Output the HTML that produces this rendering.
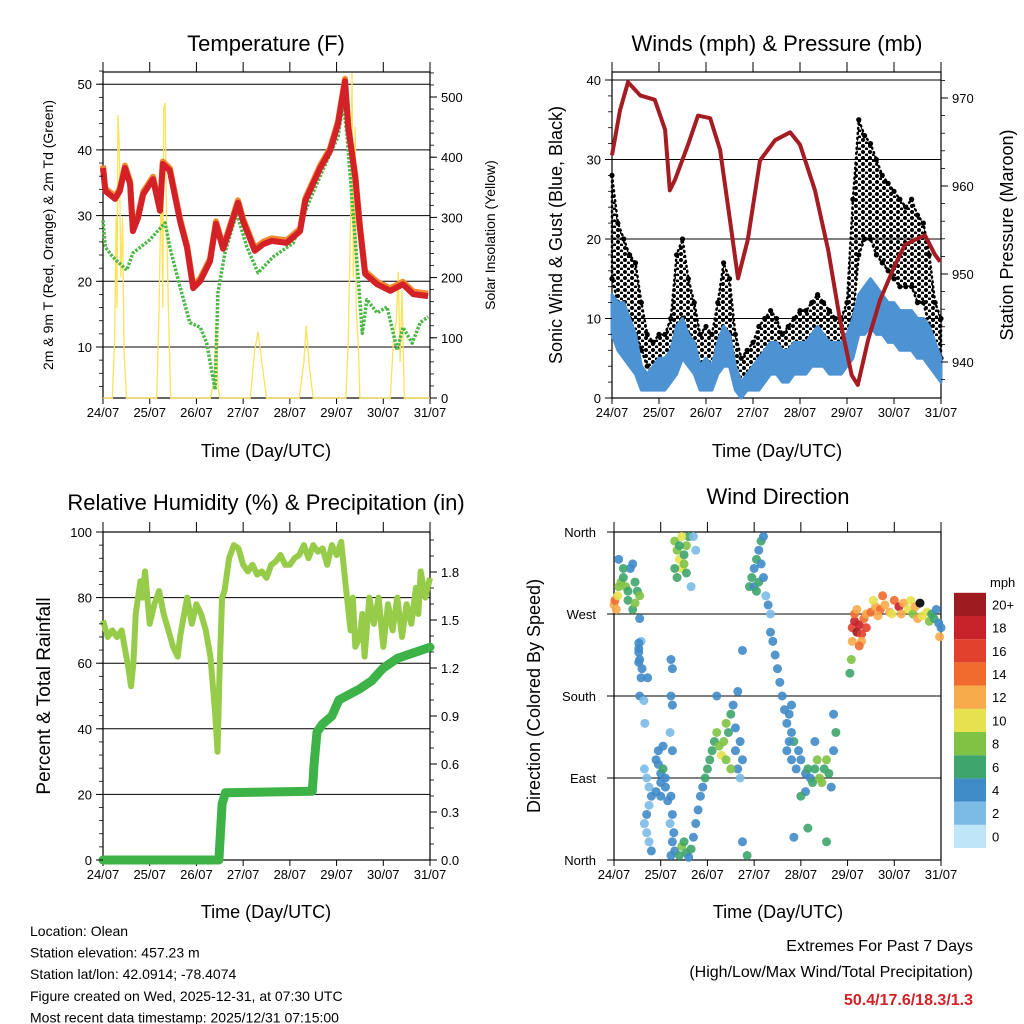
<!DOCTYPE html>
<html><head><meta charset="utf-8"><style>
body{margin:0;background:#fff}
svg{display:block;font-family:"Liberation Sans",Arial,sans-serif}
</style></head><body>
<svg id="c" width="1024" height="1024" viewBox="0 0 1024 1024" xmlns="http://www.w3.org/2000/svg">
<defs>
<pattern id="gp" width="7" height="6" patternUnits="userSpaceOnUse"><circle cx="2" cy="2" r="2" fill="#000"/><circle cx="5.5" cy="5" r="1.6" fill="#000"/></pattern>
</defs>
</svg>
<script>
// ---- data ----
const dayLabels=["24/07","25/07","26/07","27/07","28/07","29/07","30/07","31/07"];
const tT=[0,0.05,0.26,0.36,0.47,0.58,0.64,0.75,0.86,1.07,1.22,1.28,1.43,1.65,1.8,1.93,2.08,2.29,2.42,2.57,2.68,2.89,3.0,3.25,3.43,3.61,3.93,4.22,4.33,4.65,4.86,5.03,5.18,5.25,5.4,5.5,5.61,5.87,6.15,6.42,6.64,6.96];
const temp=[37.4,33.9,32.7,33.9,37.4,35,27.8,29.8,33.4,35.7,30.9,38,37,29.3,25.2,19.1,20.2,23.2,28.9,25.1,27.4,32.1,29.3,24.8,25.8,26.3,26,27.8,32.4,37.4,40,44.1,50.6,43.5,35.9,28.3,21.3,19.7,18.7,19.7,18.2,17.9];
const tTd=[0,0.05,0.21,0.51,0.64,1.0,1.33,1.43,1.65,1.86,2.08,2.22,2.4,2.46,2.61,2.86,3.08,3.32,3.64,4.07,4.43,4.71,5.03,5.14,5.22,5.35,5.46,5.55,5.65,5.87,6.08,6.3,6.42,6.62,6.79,6.96];
const dew=[29.3,25.2,23.7,21.7,24.3,26.3,28.9,25.2,19.1,13.7,13,10.6,3.5,18.2,24.3,30.4,25.2,21.3,23.7,25.8,32.4,37,42,47.1,42.6,30.9,20.7,12.1,17.2,15.2,16.1,9.5,13,10.6,13.7,14.6];
const tS=[0,0.2,0.25,0.28,0.3,0.32,0.35,0.38,0.42,0.45,0.5,1.15,1.2,1.25,1.28,1.3,1.33,1.36,1.4,1.45,2.3,2.38,2.42,2.46,2.5,3.15,3.25,3.32,3.4,3.5,4.2,4.3,4.35,4.42,4.5,5.2,5.25,5.3,5.33,5.36,5.4,5.42,5.47,5.5,6.15,6.22,6.28,6.32,6.36,6.4,6.45,7];
const solar=[0,0,100,300,150,470,420,200,300,80,0,0,150,380,150,480,490,300,150,0,0,30,120,20,0,0,80,110,60,0,0,60,120,50,0,0,100,300,540,200,450,150,80,0,0,100,130,210,60,180,0,0];
const tW=[0,0.125,0.25,0.375,0.5,0.625,0.75,0.875,1,1.125,1.25,1.375,1.5,1.625,1.75,1.875,2,2.125,2.25,2.375,2.5,2.625,2.75,2.875,3,3.125,3.25,3.375,3.5,3.625,3.75,3.875,4,4.125,4.25,4.375,4.5,4.625,4.75,4.875,5,5.125,5.25,5.375,5.5,5.625,5.75,5.875,6,6.125,6.25,6.375,6.5,6.625,6.75,6.875,7];
const gustLow=[15,12,12,10,8,6,4,3,4,4,5,8,10,8,6,4,4,3,6,8,8,3,2,2,3,4,5,6,5,4,4,5,5,6,7,8,7,6,5,5,6,10,18,20,20,18,17,16,15,14,14,14,12,12,9,6,5];
const gustHigh=[28,22,20,18,17,12,8,7,8,8,10,18,20,15,12,8,9,8,12,17,15,8,5,6,7,9,10,11,10,8,9,10,11,11,12,13,12,11,10,10,12,25,35,33,32,30,28,27,26,25,24,25,23,22,18,12,10];
const windLow=[8,6,5,4,3,1,1,1,1,1,2,3,5,4,3,1,1,1,3,4,4,1,0,1,1,1,2,3,3,2,2,3,3,3,4,4,4,3,3,3,4,5,8,8,9,8,8,7,7,6,6,6,5,5,4,3,2];
const windHigh=[13,12,12,10,8,4,3,4,5,5,6,9,10,8,7,4,5,4,7,9,8,4,2,3,4,5,6,7,7,6,6,7,7,7,8,9,8,7,7,7,8,10,13,14,15,14,13,12,12,11,11,11,10,10,9,7,5];
const tP=[0,0.17,0.34,0.6,0.91,1.13,1.23,1.34,1.62,1.83,2.09,2.3,2.51,2.68,2.89,3.15,3.47,3.79,4,4.32,4.6,4.85,5.1,5.23,5.45,5.7,6.02,6.23,6.45,6.66,6.87,6.98];
const pres=[963.5,968.6,971.8,970.3,969.8,966.4,959.5,960.7,964.7,968,967.7,964.1,956.1,949.5,953.9,962.9,965.2,966.1,964.7,959.5,952.7,944.8,938.5,937.4,942.5,947,951,953.3,953.9,954.4,952.2,951.4];
const tRH=[0,0.1,0.2,0.3,0.4,0.45,0.55,0.6,0.65,0.7,0.8,0.85,0.9,1,1.1,1.2,1.3,1.4,1.5,1.6,1.65,1.7,1.8,1.9,2,2.1,2.2,2.3,2.4,2.45,2.5,2.55,2.6,2.7,2.8,2.9,3,3.1,3.2,3.3,3.4,3.5,3.6,3.7,3.8,3.9,4,4.1,4.2,4.3,4.4,4.5,4.6,4.7,4.8,4.9,5,5.1,5.2,5.3,5.35,5.4,5.5,5.55,5.6,5.7,5.8,5.9,6,6.1,6.2,6.3,6.4,6.5,6.6,6.7,6.75,6.8,6.9,7];
const rh=[73,68,70,68,70,66,58,53,60,75,85,80,88,72,78,82,75,70,65,62,68,72,80,72,78,75,70,62,45,33,60,80,82,92,96,95,90,88,90,87,88,86,90,91,93,90,90,92,93,96,92,96,94,95,90,96,93,97,83,70,80,65,68,75,62,80,72,80,65,78,70,80,68,78,72,83,75,88,80,86];
const tR=[0,2.48,2.5,2.55,2.62,4.48,4.52,4.58,4.7,4.9,5.05,5.5,5.75,6,6.3,6.7,7];
const rain=[0,0,0.1,0.35,0.42,0.43,0.6,0.8,0.85,0.9,1.0,1.07,1.12,1.2,1.26,1.3,1.33];
const dirT=[0,0.02,0.05,0.08,0.1,0.15,0.2,0.25,0.3,0.35,0.4,0.45,0.5,0.55,0.3,0.4,0.45,0.2,0.1,0.55,0.58,0.55,0.6,0.58,0.55,0.53,0.53,0.53,0.53,0.65,0.7,0.75,0.8,0.75,0.7,0.65,0.7,0.75,0.8,0.9,0.95,1,1.05,1.1,1,0.95,1.05,1.1,1.15,0.9,1,0.64,0.66,0.72,1.22,1.25,1.22,1.25,1.2,1.25,1.22,1.25,1.2,1.28,1.25,1.22,1.3,1.35,1.4,1.45,1.5,1.55,1.6,1.3,1.35,1.4,1.45,1.5,1.55,1.7,1.75,1.65,1.3,1.4,1.45,1.5,1.55,1.6,1.65,1.7,1.75,1.8,1.85,1.9,1.95,2,2.05,2.1,2.15,2.2,2.25,2.3,2.35,2.4,2.45,2.5,2.55,2.6,2.65,2.7,2.5,2.4,2.6,2.7,2.75,2.65,2.2,2.75,2.75,2.85,2.9,2.95,3,3.05,3.1,3.15,3.2,3,3.05,3.1,3.15,3.2,3.25,3.3,3.35,3.35,3.4,3.45,3.5,3.55,3.6,3.65,3.7,3.75,3.8,3.85,3.75,3.7,3.8,3.9,3.95,4,4.1,4.15,4.2,4.25,4.3,4.35,4.4,4.45,4.5,4.55,4.6,4.65,4.7,4.75,4.7,4.3,4.1,4,3.8,3.85,4.15,4.55,5.05,5.08,5.1,5.1,5.15,5.2,5.25,5.3,5.35,5.4,5.15,5.2,5.3,5.25,5.4,5.5,5.6,5.7,5.8,5.9,6,6.1,6.2,6.3,6.4,6.5,6.6,6.7,6.75,6.8,6.85,6.9,6.95,7,6.97,5.55,5.65,5.75,5.95,6.15,6.35,6.45,6.55];
const dirDeg=[280,285,275,290,300,305,310,300,295,320,325,305,295,290,285,275,282,320,330,265,240,220,210,200,180,238,232,228,217,100,90,80,70,60,50,40,30,20,10,110,105,95,100,90,85,120,125,80,65,75,70,175,150,200,220,210,180,170,140,120,70,50,40,30,20,5,350,340,330,320,335,345,355,320,310,345,355,325,315,355,340,300,10,5,15,20,8,3,12,25,40,55,70,80,90,100,110,120,130,140,125,115,130,110,140,160,170,120,100,90,100,150,145,130,110,185,180,230,20,5,300,310,320,330,340,350,355,300,295,305,325,310,290,280,270,250,240,225,210,195,180,165,150,160,140,130,130,120,110,100,120,110,95,100,90,85,100,110,90,85,100,110,95,80,120,140,160,130,75,70,170,25,35,20,205,220,240,255,262,250,258,248,265,270,270,275,240,235,255,272,278,275,280,272,285,278,282,275,270,265,268,272,262,270,265,275,260,255,245,285,268,290,270,270,285,278,282];
const dirSpd=[12,14,11,10,8,7,6,7,6,4,4,5,6,8,6,5,7,5,4,3,2,3,4,4,3,4,4,3,4,2,2,2,3,2,3,2,2,2,3,4,4,4,5,4,3,4,4,4,3,3,4,2,2,3,4,3,3,4,2,3,3,4,2,3,4,4,7,8,9,9,6,7,5,6,6,5,9,8,5,2,2,2,4,6,7,6,5,4,5,4,4,4,4,4,5,6,6,5,6,7,8,9,8,7,6,5,4,3,3,2,8,7,4,3,3,3,4,4,4,6,6,5,4,5,4,6,3,4,5,6,3,4,2,3,2,3,3,3,4,4,4,4,4,4,3,5,4,3,4,4,4,4,4,5,4,6,5,8,7,7,6,7,6,3,4,5,4,3,3,6,3,4,6,6,6,7,12,16,18,20,17,15,13,12,14,12,11,14,16,13,12,14,11,12,13,17,12,10,8,11,10,9,7,6,5,4,4,4,12,10,11,14,9,12,9,11];
const speedColors=["#bfe5f8","#7cbbe6","#3f8bc8","#3ea56d","#80c244","#e6e14c","#f7ab4a","#f16b2e","#e2412d","#c8222b","#9e1b1f"];
const cbLabels=["0","2","4","6","8","10","12","14","16","18","20+"];

// ---- helpers ----
const svg=document.getElementById('c');
const NS="http://www.w3.org/2000/svg";
function mk(tag,at,parent){const e=document.createElementNS(NS,tag);for(const k in at)e.setAttribute(k,at[k]);(parent||svg).appendChild(e);return e;}
function txt(x,y,s,size,anchor,extra,parent){const e=mk('text',Object.assign({x:x,y:y,'font-size':size,'text-anchor':anchor||'middle',fill:'#000'},extra||{}),parent);e.textContent=s;return e;}
function pts(xs,ys,fx,fy){return xs.map((t,i)=>fx(t).toFixed(1)+","+fy(ys[i]).toFixed(1)).join(" ");}

function frame(g,x0,y0,x1,y1,grid,fy){
  grid.forEach(v=>{mk('line',{x1:x0,x2:x1,y1:fy(v),y2:fy(v),stroke:'#000','stroke-width':1},g);});
  mk('rect',{x:x0,y:y0,width:x1-x0,height:y1-y0,fill:'none',stroke:'#000','stroke-width':1.2},g);
  const fx=t=>x0+t*(x1-x0)/7;
  for(let d=0;d<=7;d++){
    mk('line',{x1:fx(d),x2:fx(d),y1:y1,y2:y1+6,stroke:'#000'},g);
    mk('line',{x1:fx(d),x2:fx(d),y1:y0,y2:y0-10,stroke:'#000'},g);
    const l=txt(fx(d),y1+19,dayLabels[d],13,'middle',{},g);
    
    
  }
  return fx;
}
function yticks(g,x,vals,fy,labels,side,minor){
  const dir=side==='left'?-1:1;
  (minor||[]).forEach(v=>mk('line',{x1:x,x2:x+dir*4,y1:fy(v),y2:fy(v),stroke:'#000','stroke-width':0.8},g));
  vals.forEach((v,i)=>{mk('line',{x1:x,x2:x+dir*7,y1:fy(v),y2:fy(v),stroke:'#000'},g);
    const l=txt(x+dir*11,fy(v)+5,labels[i],13,side==='left'?'end':'start',{},g);
    
    });
}
function group(name){const g=mk('g',{});return g;}
function range(a,b,s){const r=[];for(let v=a;v<=b+1e-9;v+=s)r.push(+v.toFixed(3));return r;}

// ---- Panel 1: Temperature ----
(function(){
  const g=group('temperature-panel');
  const x0=103,x1=430,y0=72,y1=398;
  const fyT=v=>347-(v-10)*6.57, fyS=v=>398-v*0.602;
  const fx=frame(g,x0,y0,x1,y1,[10,20,30,40,50],fyT);
  const sl=mk('polyline',{points:pts(tS,solar,fx,fyS),fill:'none',stroke:'#fde25a','stroke-width':1.3},g);
  
  const dl=mk('polyline',{points:pts(tTd,dew,fx,fyT),fill:'none',stroke:'#4db848','stroke-width':3.5,'stroke-dasharray':'2.5 1.5','stroke-linejoin':'round'},g);
  
  const ol=mk('polyline',{points:pts(tT,temp,fx,v=>fyT(v)-1.5),fill:'none',stroke:'#f08a30','stroke-width':6,'stroke-linejoin':'round'},g);
  
  const rl=mk('polyline',{points:pts(tT,temp,fx,v=>fyT(v)+1),fill:'none',stroke:'#d42027','stroke-width':6,'stroke-linejoin':'round'},g);
  
  yticks(g,x0,[10,20,30,40,50],fyT,["10","20","30","40","50"],'left',range(4,52,2));
  yticks(g,x1,[0,100,200,300,400,500],fyS,["0","100","200","300","400","500"],'right',range(0,540,20));
  const t=txt(266,51,"Temperature (F)",22,'middle',{},g);
  const xt=txt(266,457,"Time (Day/UTC)",18,'middle',{},g);
  const yl=txt(0,0,"2m & 9m T (Red, Orange) & 2m Td (Green)",14,'middle',{transform:'translate(53,235) rotate(-90)'},g);
  const yr=txt(0,0,"Solar Insolation (Yellow)",14,'middle',{transform:'translate(495,235) rotate(-90)'},g);
})();

// ---- Panel 2: Winds ----
(function(){
  const g=group('winds-panel');
  const x0=612,x1=941,y0=72,y1=398;
  const fyW=v=>398-v*7.95, fyP=v=>362-(v-940)*8.8;
  const fx=frame(g,x0,y0,x1,y1,[10,20,30,40],fyW);
  const gb=mk('polygon',{points:pts(tW,gustHigh,fx,fyW)+" "+pts(tW.slice().reverse(),gustLow.slice().reverse(),fx,fyW),fill:'url(#gp)',stroke:'#000','stroke-width':2.5,'stroke-dasharray':'1 4','stroke-linecap':'round'},g);
  
  tW.forEach((t,i)=>{[gustLow[i],gustHigh[i]].forEach(v=>{const c=mk('circle',{cx:fx(t),cy:fyW(v),r:2.6,fill:'#000'},g);});});
  const wb=mk('polygon',{points:pts(tW,windHigh,fx,fyW)+" "+pts(tW.slice().reverse(),windLow.slice().reverse(),fx,fyW),fill:'#4d93d4',stroke:'#4d93d4','stroke-width':3,'stroke-linejoin':'round'},g);
  
  const pl=mk('polyline',{points:pts(tP,pres,fx,fyP),fill:'none',stroke:'#a51c22','stroke-width':4,'stroke-linejoin':'round'},g);
  
  yticks(g,x0,[0,10,20,30,40],fyW,["0","10","20","30","40"],'left',range(0,40,2));
  yticks(g,x1,[940,950,960,970],fyP,["940","950","960","970"],'right',range(938,972,2));
  const t=txt(777,51,"Winds (mph) & Pressure (mb)",22,'middle',{},g);
  const xt=txt(777,457,"Time (Day/UTC)",18,'middle',{},g);
  const yl=txt(0,0,"Sonic Wind & Gust (Blue, Black)",18,'middle',{transform:'translate(562,235) rotate(-90)'},g);
  const yr=txt(0,0,"Station Pressure (Maroon)",18,'middle',{transform:'translate(1013,235) rotate(-90)'},g);
})();

// ---- Panel 3: RH & precip ----
(function(){
  const g=group('humidity-panel');
  const x0=103,x1=430,y0=532,y1=860;
  const fyH=v=>860-v*3.28, fyR=v=>860-v*160;
  const fx=frame(g,x0,y0,x1,y1,[20,40,60,80],fyH);
  const hl=mk('polyline',{points:pts(tRH,rh,fx,fyH),fill:'none',stroke:'#97cc4a','stroke-width':6,'stroke-linejoin':'round'},g);
  
  const rl=mk('polyline',{points:pts(tR,rain,fx,fyR),fill:'none',stroke:'#3db347','stroke-width':9,'stroke-linejoin':'round','stroke-linecap':'round'},g);
  
  yticks(g,x0,[0,20,40,60,80,100],fyH,["0","20","40","60","80","100"],'left',range(0,100,4));
  yticks(g,x1,[0,0.3,0.6,0.9,1.2,1.5,1.8],fyR,["0.0","0.3","0.6","0.9","1.2","1.5","1.8"],'right',range(0,2,0.1));
  const t=txt(266,510,"Relative Humidity (%) & Precipitation (in)",22,'middle',{},g);
  const xt=txt(266,918,"Time (Day/UTC)",18,'middle',{},g);
  const yl=txt(0,0,"Percent & Total Rainfall",19,'middle',{transform:'translate(50,696) rotate(-90)'},g);
})();

// ---- Panel 4: Wind direction ----
(function(){
  const g=group('wind-direction-panel');
  const x0=614,x1=941,y0=532,y1=860;
  const fyD=v=>860-v*328/360;
  const fx=frame(g,x0,y0,x1,y1,[90,180,270],fyD);
  const dl=[0,90,180,270,360], dn=["North","East","South","West","North"];
  dl.forEach((v,i)=>{mk('line',{x1:x0,x2:x0-7,y1:fyD(v),y2:fyD(v),stroke:'#000'},g);
    const l=txt(x0-18,fyD(v)+5,dn[i],13,'end',{},g);});
  dirT.forEach((t,i)=>{const k=Math.min(10,Math.round(dirSpd[i]/2));
    const c=mk('circle',{cx:fx(t),cy:fyD(dirDeg[i]),r:4.5,fill:speedColors[k],'fill-opacity':0.9},g);
    });
  const t=txt(778,504,"Wind Direction",22,'middle',{},g);
  const xt=txt(778,918,"Time (Day/UTC)",18,'middle',{},g);
  const yl=txt(0,0,"Direction (Colored By Speed)",18,'middle',{transform:'translate(540,696) rotate(-90)'},g);
  const cb=group('speed-colorbar');
  const h=23.2;
  speedColors.forEach((c,i)=>{const y=848-(i+1)*h;
    const r=mk('rect',{x:954,y:y,width:32,height:h,fill:c,stroke:'none'},cb);
    const l=txt(992,y+h/2+5,cbLabels[i],13,'start',{},cb);});
  const m=txt(990,587,"mph",13,'start',{},cb);
})();

// ---- footer ----
(function(){
  const g=group('station-info');
  const lines=["Location: Olean","Station elevation: 457.23 m","Station lat/lon: 42.0914; -78.4074","Figure created on Wed, 2025-12-31, at 07:30 UTC","Most recent data timestamp: 2025/12/31 07:15:00"];
  lines.forEach((s,i)=>{const l=txt(30,936+i*21.6,s,14,'start',{},g);});
  const g2=group('extremes-box');
  const a=txt(973,951,"Extremes For Past 7 Days",16,'end',{},g2);
  const b=txt(973,977,"(High/Low/Max Wind/Total Precipitation)",16,'end',{},g2);
  const c=txt(973,1005,"50.4/17.6/18.3/1.3",16,'end',{fill:'#d42027','font-weight':'bold'},g2);
})();
</script>
</body></html>
